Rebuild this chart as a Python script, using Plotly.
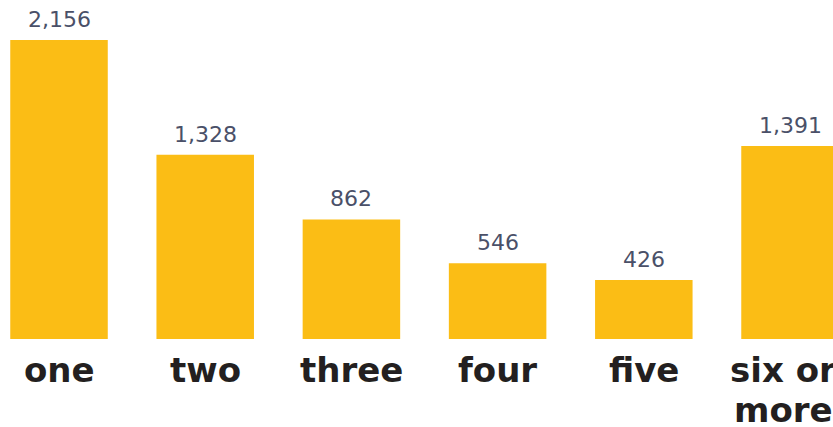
import plotly.graph_objects as go

categories = ["one", "two", "three", "four", "five", "six or more"]
tick_labels = ["one", "two", "three", "four", "five", "six or<br>more"]
values = [2156, 1328, 862, 546, 426, 1391]
value_labels = [f"{v:,}" for v in values]

W, H = 833, 427
fig = go.Figure(go.Bar(
    x=list(range(len(categories))),
    y=values,
    marker=dict(color="#fbbd15", line=dict(width=0)),
    width=0.667,
    hoverinfo="skip",
))

for i, (v, lab) in enumerate(zip(values, value_labels)):
    fig.add_annotation(
        x=i, y=v, text=lab, showarrow=False,
        xanchor="center", yanchor="bottom", yshift=6,
        font=dict(family="DejaVu Sans, Verdana", size=22, color="#4a5068"),
    )

for i, lab in enumerate(tick_labels):
    lines = lab.split("<br>")
    for j, line in enumerate(lines):
        fig.add_annotation(
            x=i, y=0, text=line, showarrow=False,
            xanchor="center", yanchor="bottom",
            xshift=-7 if len(lines) > 1 else 0,
            yshift=-53 - 40 * j,
            font=dict(family="DejaVu Sans, Verdana", size=34, color="#231f20", weight="bold"),
        )

fig.update_layout(
    width=W, height=H,
    margin=dict(l=0, r=0, t=0, b=88, autoexpand=False),
    paper_bgcolor="white", plot_bgcolor="white",
    showlegend=False,
    xaxis=dict(
        range=[-0.4036, 5.294],
        showticklabels=False,
        showgrid=False, zeroline=False, showline=False, ticks="",
        automargin=False,
    ),
    yaxis=dict(range=[0, 2444], visible=False, automargin=False),
)

fig.write_html("out.html")
